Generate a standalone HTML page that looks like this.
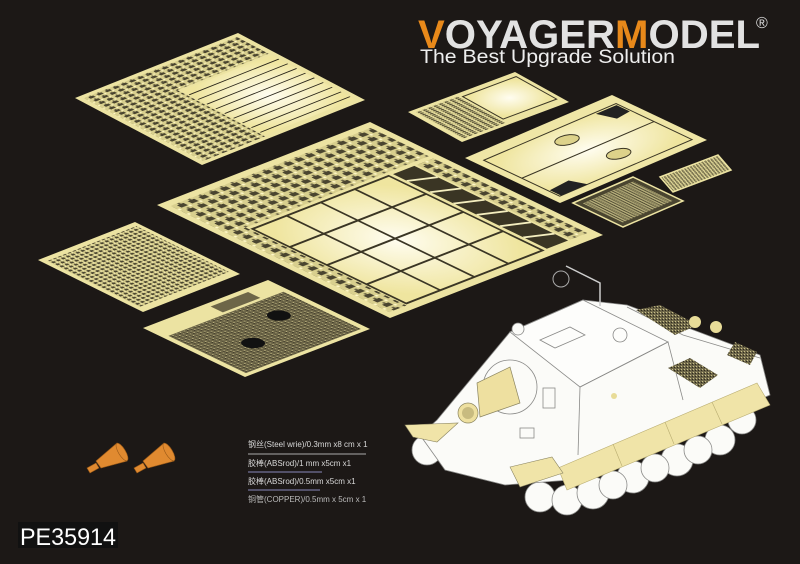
<!DOCTYPE html>
<html><head><meta charset="utf-8"><style>
html,body{margin:0;padding:0;background:#1c1816;}
svg{display:block}
</style></head><body>
<svg width="800" height="564" viewBox="0 0 800 564" xmlns="http://www.w3.org/2000/svg">
<defs>
<pattern id="busy" width="5" height="4" patternUnits="userSpaceOnUse">
<rect width="5" height="4" fill="#d8cf8e"/><rect x="0" y="0" width="3" height="2" fill="#4a4530"/><rect x="3" y="2" width="1" height="1" fill="#fff8c8"/><rect x="1" y="3" width="1" height="1" fill="#6a6446"/>
</pattern>
<pattern id="mesh" width="3" height="3" patternUnits="userSpaceOnUse">
<rect width="3" height="3" fill="#6d6648"/><rect width="1" height="1" fill="#c9c08a"/><rect x="2" y="1" width="1" height="1" fill="#2e2a1e"/>
</pattern>
<radialGradient id="glow" cx="0.5" cy="0.5" r="0.6">
<stop offset="0" stop-color="#fffdf0"/><stop offset="1" stop-color="#efe59f"/>
</radialGradient>
</defs>
<rect width="800" height="564" fill="#1c1816"/>

<!-- Sheet A -->
<g transform="matrix(1.63,-0.65,1.27,0.67,75,98)">
<rect x="0" y="0" width="100" height="100" fill="#ece3a2"/>
<rect x="3" y="3" width="38" height="94" fill="url(#busy)"/>
<rect x="41" y="3" width="56" height="25" fill="url(#busy)"/>
<rect x="42" y="30" width="55" height="66" fill="url(#glow)"/>
<g stroke="#2a261a" stroke-width="0.8" vector-effect="non-scaling-stroke">
<line x1="42" y1="36" x2="97" y2="36"/><line x1="42" y1="43" x2="97" y2="43"/><line x1="42" y1="50" x2="97" y2="50"/><line x1="42" y1="57" x2="97" y2="57"/><line x1="42" y1="64" x2="97" y2="64"/><line x1="42" y1="71" x2="97" y2="71"/><line x1="42" y1="78" x2="97" y2="78"/><line x1="42" y1="85" x2="97" y2="85"/><line x1="42" y1="92" x2="97" y2="92"/>
</g>
</g>

<!-- Sheet B -->
<g transform="matrix(2.13,-0.83,2.33,1.13,157,205)">
<rect x="0" y="0" width="100" height="100" fill="#ece3a2"/>
<rect x="3" y="3" width="94" height="25" fill="url(#busy)"/>
<rect x="3" y="28" width="8" height="69" fill="url(#busy)"/>
<rect x="12" y="30" width="64" height="66" fill="url(#glow)"/>
<g stroke="#3a3524" stroke-width="1" vector-effect="non-scaling-stroke" fill="none">
<line x1="12" y1="46" x2="76" y2="46"/><line x1="12" y1="62" x2="76" y2="62"/><line x1="12" y1="79" x2="76" y2="79"/>
<line x1="28" y1="30" x2="28" y2="96"/><line x1="44" y1="30" x2="44" y2="96"/><line x1="60" y1="30" x2="60" y2="96"/>
<rect x="12" y="30" width="64" height="66"/>
</g>
<rect x="78" y="30" width="10" height="66" fill="#3a3524"/>
<g stroke="#f4eebf" stroke-width="1.2" vector-effect="non-scaling-stroke">
<line x1="78" y1="36" x2="88" y2="40"/><line x1="78" y1="46" x2="88" y2="50"/><line x1="78" y1="56" x2="88" y2="60"/><line x1="78" y1="66" x2="88" y2="70"/><line x1="78" y1="76" x2="88" y2="80"/><line x1="78" y1="86" x2="88" y2="90"/>
</g>
<rect x="89" y="30" width="8" height="66" fill="url(#busy)"/>
</g>

<!-- Sheet C -->
<g transform="matrix(0.97,-0.38,1.05,0.52,38,260)">
<rect x="0" y="0" width="100" height="100" fill="#ece3a2"/>
<rect x="4" y="5" width="92" height="88" fill="url(#busy)"/>
</g>

<!-- Sheet D -->
<g transform="matrix(1.25,-0.48,1.02,0.49,143,328)">
<rect x="0" y="0" width="100" height="100" fill="#ece3a2"/>
<rect x="4" y="20" width="92" height="76" fill="url(#mesh)"/>
<rect x="50" y="5" width="30" height="12" fill="#6d6648"/>
<ellipse cx="35" cy="65" rx="7" ry="8" fill="#111"/>
<ellipse cx="72" cy="45" rx="7" ry="8" fill="#111"/>
</g>

<!-- Sheet E -->
<g transform="matrix(1.07,-0.40,0.54,0.30,408,112)">
<rect x="0" y="0" width="100" height="100" fill="#ece3a2"/>
<rect x="4" y="6" width="40" height="88" fill="url(#busy)"/>
<rect x="46" y="10" width="50" height="75" fill="url(#glow)" stroke="#3a3524" stroke-width="1" vector-effect="non-scaling-stroke"/>
</g>

<!-- Sheet F -->
<g transform="matrix(1.47,-0.63,0.95,0.45,465,158)">
<rect x="0" y="0" width="100" height="100" fill="#efe6a6"/>
<rect x="5" y="12" width="90" height="80" fill="url(#glow)" stroke="#3a3524" stroke-width="1" vector-effect="non-scaling-stroke"/>
<line x1="5" y1="52" x2="95" y2="52" stroke="#3a3524" stroke-width="1" vector-effect="non-scaling-stroke"/>
<circle cx="50" cy="30" r="7" fill="#ddd28a" stroke="#3a3524" stroke-width="1" vector-effect="non-scaling-stroke"/>
<circle cx="58" cy="72" r="7" fill="#ddd28a" stroke="#3a3524" stroke-width="1" vector-effect="non-scaling-stroke"/>
<path d="M6 80 L20 78 L24 92 L6 92Z" fill="#222"/>
<path d="M80 14 L94 14 L94 28 L84 30Z" fill="#222"/>
</g>

<!-- Sheet G -->
<g transform="matrix(0.58,-0.22,0.13,0.15,660,177)">
<rect width="100" height="100" fill="url(#busy)" stroke="#ece3a2" stroke-width="1.5" vector-effect="non-scaling-stroke"/>
</g>
<!-- Sheet H -->
<g transform="matrix(0.60,-0.26,0.50,0.24,573,203)">
<rect width="100" height="100" fill="#4a4530" stroke="#ece3a2" stroke-width="1.5" vector-effect="non-scaling-stroke"/>
<rect x="8" y="10" width="84" height="80" fill="url(#busy)" opacity="0.7"/>
</g>

<!-- Tank -->
<g stroke="#8a8a88" stroke-width="0.8" fill="#fbfbf8">
<circle cx="427" cy="450" r="15"/>
<circle cx="742" cy="420" r="14"/>
<circle cx="540" cy="497" r="15"/>
<circle cx="567" cy="500" r="15"/>
<circle cx="593" cy="493" r="16"/>
<circle cx="633" cy="477" r="16"/>
<circle cx="677" cy="460" r="16"/>
<circle cx="720" cy="440" r="15"/>
<circle cx="613" cy="485" r="14"/>
<circle cx="655" cy="468" r="14"/>
<circle cx="698" cy="450" r="14"/>
<polygon points="437,420 510,332 583,300 627,305 760,355 770,395 570,480 505,485 445,470 420,435"/>
<polygon points="510,332 583,300 668,342 580,387" fill="#fdfdfb"/>
<polyline points="580,387 668,342 683,400" fill="none"/>
<polyline points="580,387 578,455" fill="none"/>
<polyline points="627,307 683,335 760,358" fill="none"/>
<polygon points="668,368 690,358 718,375 700,388" fill="url(#mesh)" stroke="none"/>
<polygon points="636,310 660,305 698,325 675,335" fill="url(#mesh)" stroke="none"/>
<polygon points="735,342 757,352 750,365 727,355" fill="url(#mesh)" stroke="none"/>
<polygon points="540,340 570,327 585,335 555,348" fill="none"/>
<circle cx="510" cy="387" r="27" fill="none"/>
<rect x="543" y="388" width="12" height="20" fill="none"/>
<rect x="520" y="428" width="14" height="10" fill="none"/>
<circle cx="518" cy="329" r="6"/>
<circle cx="620" cy="335" r="7" fill="none"/>
</g>
<circle cx="561" cy="279" r="8" fill="none" stroke="#aaa" stroke-width="1"/>
<polyline points="566,266 600,283 600,306" fill="none" stroke="#ccc" stroke-width="1.5"/>
<circle cx="695" cy="322" r="6" fill="#e8dc98"/><circle cx="716" cy="327" r="6" fill="#e8dc98"/>
<circle cx="614" cy="396" r="3" fill="#e8dc98"/>
<polygon points="477,383 510,367 520,403 500,410 480,417" fill="#eee0a0" stroke="#8a8460" stroke-width="0.7"/>
<circle cx="468" cy="413" r="10" fill="#eee0a0" stroke="#8a8460" stroke-width="0.7"/>
<circle cx="468" cy="413" r="6" fill="#c8bb80"/>
<polygon points="558,468 757,383 770,405 567,490" fill="#f0e4a8" stroke="#b8ac70" stroke-width="0.6"/>
<g stroke="#b8ac70" stroke-width="0.6"><line x1="613" y1="444" x2="622" y2="466"/><line x1="665" y1="422" x2="674" y2="444"/><line x1="712" y1="402" x2="722" y2="424"/></g>
<polygon points="405,425 458,423 437,442 413,437" fill="#f0e4a8" stroke="#8a8460" stroke-width="0.6"/>
<polygon points="510,467 552,457 563,473 520,487" fill="#f0e4a8" stroke="#8a8460" stroke-width="0.6"/>

<!-- cones -->
<g fill="#e08a30" stroke="#9a5a18" stroke-width="0.6">
<polygon points="87,468 96,463 99,468 90,473"/>
<polygon points="96,461 117,443 127,461 101,468"/>
<ellipse cx="122" cy="452" rx="3.5" ry="10" transform="rotate(-31 122 452)"/>
<polygon points="134,468 143,463 146,468 137,473"/>
<polygon points="143,461 164,443 174,461 148,468"/>
<ellipse cx="169" cy="452" rx="3.5" ry="10" transform="rotate(-31 169 452)"/>
</g>

<!-- labels -->
<g font-family="Liberation Sans, Noto Sans CJK SC, sans-serif" font-size="8" fill="#d8d8d8">
<text x="248" y="447">钢丝(Steel wrie)/0.3mm x8 cm x 1</text>
<text x="248" y="466">胶棒(ABSrod)/1 mm x5cm x1</text>
<text x="248" y="484">胶棒(ABSrod)/0.5mm x5cm x1</text>
<text x="248" y="502" fill="#bbb">铜管(COPPER)/0.5mm x 5cm x 1</text>
</g>
<line x1="248" y1="454" x2="366" y2="454" stroke="#aaa" stroke-width="1"/>
<line x1="248" y1="472" x2="322" y2="472" stroke="#8888bb" stroke-width="1"/>
<line x1="248" y1="490" x2="320" y2="490" stroke="#8888bb" stroke-width="1"/>

<!-- logo -->
<text x="418" y="48" font-family="Liberation Sans, sans-serif" font-weight="bold" font-size="40" textLength="342" lengthAdjust="spacingAndGlyphs" fill="#e2e2e2"><tspan fill="#e8891a">V</tspan>OYAGER<tspan fill="#e8891a">M</tspan>ODEL</text>
<text x="756" y="28" font-family="Liberation Sans, sans-serif" font-size="16" fill="#ddd">®</text>
<text x="420" y="63" font-family="Liberation Sans, sans-serif" font-size="19" textLength="255" lengthAdjust="spacingAndGlyphs" fill="#eee">The Best Upgrade Solution</text>

<rect x="18" y="522" width="100" height="26" fill="#111"/>
<text x="20" y="545" font-family="Liberation Sans, sans-serif" font-size="24" textLength="96" lengthAdjust="spacingAndGlyphs" fill="#fff">PE35914</text>
</svg>
</body></html>
